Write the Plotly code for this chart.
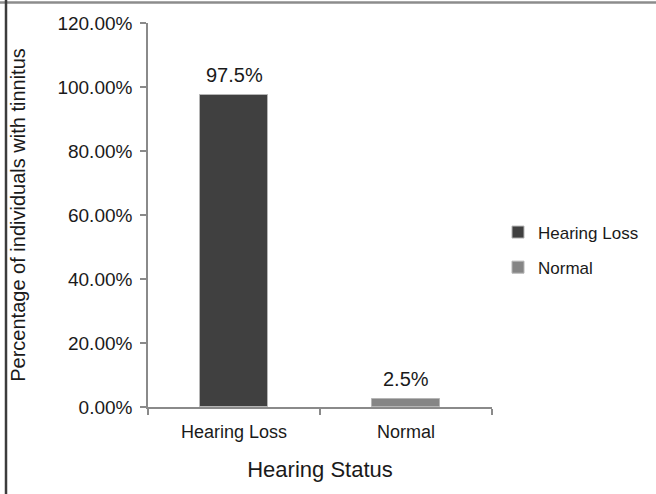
import plotly.graph_objects as go

# Share of individuals with tinnitus by hearing status
categories = ["Hearing Loss", "Normal"]
percentages = [97.5, 2.5]
bar_colors = ["#404040", "#858585"]
value_labels = ["97.5%", "2.5%"]

y_ticks = [0, 20, 40, 60, 80, 100, 120]
y_tick_labels = ["0.00%", "20.00%", "40.00%", "60.00%", "80.00%", "100.00%", "120.00%"]

FONT = "Liberation Sans, Arial, sans-serif"
TEXT = "#1a1a1a"
AXIS = "#8a8a8a"

fig = go.Figure()
for cat, val, col in zip(categories, percentages, bar_colors):
    fig.add_trace(go.Bar(
        x=[cat], y=[val], name=cat, width=0.4,
        marker=dict(color=col, line=dict(color="#b5b5b5", width=1)),
        legendgroup=cat, hoverinfo="skip",
    ))

for cat, val, lab in zip(categories, percentages, value_labels):
    fig.add_annotation(
        x=cat, y=val, text=lab, showarrow=False,
        yanchor="bottom", yshift=7,
        font=dict(family=FONT, size=20, color=TEXT),
    )

# Frame lines along the top and left edges of the figure
L, R, T, B = 148, 164, 23, 87
W, H = 656, 494
pw, ph = W - L - R, H - T - B

def px_x(p):
    return (p - L) / pw

def px_y(p):
    return (H - B - p) / ph

fig.add_shape(type="line", xref="paper", yref="paper",
              x0=px_x(0), x1=px_x(W), y0=px_y(2.5), y1=px_y(2.5),
              line=dict(color="#8c8c8c", width=2.5))
fig.add_shape(type="line", xref="paper", yref="paper",
              x0=px_x(6), x1=px_x(6), y0=px_y(0), y1=px_y(H),
              line=dict(color="#3c3c3c", width=2.5))

fig.update_layout(
    width=W, height=H,
    margin=dict(l=L, r=R, t=T, b=B, pad=0),
    paper_bgcolor="white", plot_bgcolor="white",
    barmode="overlay", bargap=0,
    font=dict(family=FONT, size=17, color=TEXT),
    showlegend=True,
    legend=dict(
        x=px_x(498), xanchor="left", y=px_y(250), yanchor="middle",
        font=dict(family=FONT, size=17, color=TEXT),
        tracegroupgap=10, itemwidth=30,
        bgcolor="rgba(0,0,0,0)",
    ),
    xaxis=dict(
        type="category", categoryorder="array", categoryarray=categories,
        range=[-0.5, 1.5],
        showline=True, linecolor=AXIS, linewidth=1.5,
        ticks="outside", tickson="boundaries", ticklen=6, tickcolor=AXIS, tickwidth=1.5,
        ticklabelstandoff=8,
        showgrid=False, zeroline=False,
        tickfont=dict(family=FONT, size=18, color=TEXT),
        title=dict(text="Hearing Status", font=dict(family=FONT, size=22, color=TEXT), standoff=20),
    ),
    yaxis=dict(
        range=[0, 120], tickvals=y_ticks, ticktext=y_tick_labels,
        showline=True, linecolor=AXIS, linewidth=1.5,
        ticks="outside", ticklen=6, tickcolor=AXIS, tickwidth=1.5,
        ticklabelstandoff=4,
        showgrid=False, zeroline=False,
        tickfont=dict(family=FONT, size=19, color=TEXT),
        title=dict(text="Percentage of individuals with tinnitus",
                   font=dict(family=FONT, size=20, color=TEXT), standoff=26),
    ),
)

fig.write_html("out.html")
